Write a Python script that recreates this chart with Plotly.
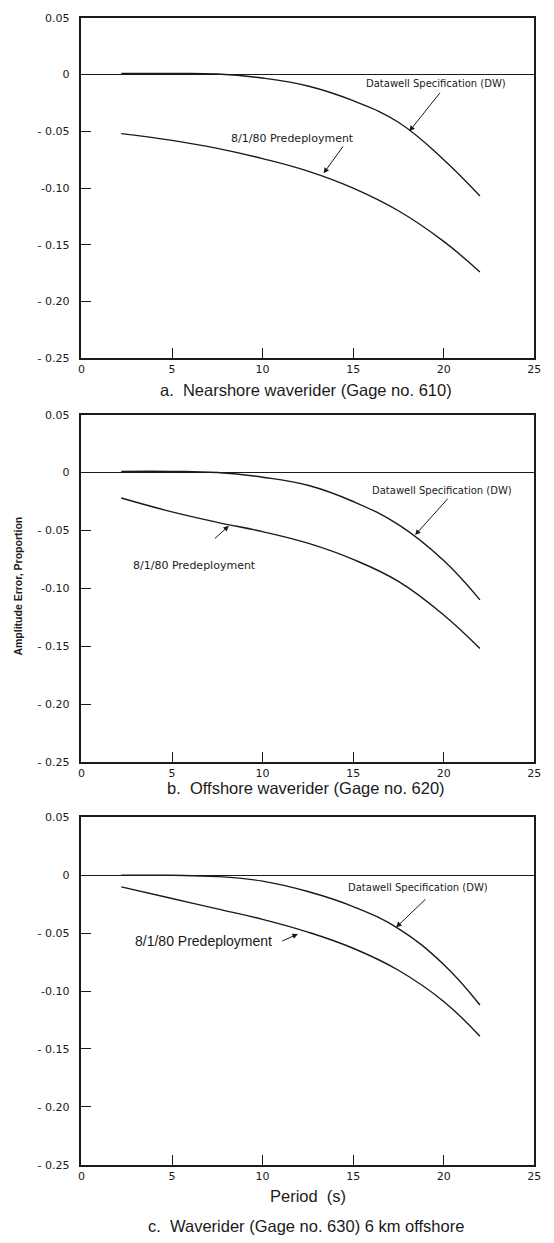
import plotly.graph_objects as go

# ---- data ----
period = [2.2, 5, 7.5, 10, 12.5, 15, 17.5, 20, 22]

dw_a = [0.001, 0.001, 0.0005, -0.003, -0.010, -0.023, -0.042, -0.075, -0.107]
pre_a = [-0.052, -0.058, -0.065, -0.074, -0.085, -0.100, -0.120, -0.147, -0.174]

dw_b = [0.001, 0.001, 0.0, -0.004, -0.011, -0.025, -0.045, -0.076, -0.110]
pre_b = [-0.022, -0.034, -0.043, -0.051, -0.061, -0.075, -0.094, -0.123, -0.152]

dw_c = [0.0, 0.0, -0.001, -0.005, -0.014, -0.027, -0.046, -0.077, -0.112]
pre_c = [-0.010, -0.020, -0.029, -0.038, -0.049, -0.063, -0.082, -0.109, -0.139]

x_ticks = [0, 5, 10, 15, 20, 25]
x_ticktext = ["0", "5", "10", "15", "20", "25"]
y_ticks = [0.05, 0, -0.05, -0.10, -0.15, -0.20, -0.25]
y_ticktext = ["0.05", "0", "- 0.05", "-0.10", "- 0.15", "- 0.20", "- 0.25"]

captions = ["a.  Nearshore waverider (Gage no. 610)",
            "b.  Offshore waverider (Gage no. 620)",
            "c.  Waverider (Gage no. 630) 6 km offshore"]

W, H = 554, 1243
INK = "#1a1a1a"
TICKFONT = dict(family="DejaVu Sans", size=11, color=INK)

def py(px):
    return 1 - px / H

x_dom = [79 / W, 541 / W]
panels_px = [(12, 356), (413, 764), (820, 1171)]

fig = go.Figure()

series = [(dw_a, pre_a), (dw_b, pre_b), (dw_c, pre_c)]
for i, (dw, pre) in enumerate(series):
    sfx = "" if i == 0 else str(i + 1)
    for yy in (dw, pre):
        fig.add_trace(go.Scatter(
            x=period, y=yy, mode="lines",
            line=dict(color=INK, width=1.4, shape="spline", smoothing=1.2),
            xaxis="x" + sfx, yaxis="y" + sfx, showlegend=False, hoverinfo="skip"))

    top, bot = panels_px[i]
    xa = dict(domain=x_dom, range=[0, 25], tickvals=x_ticks, ticktext=x_ticktext,
              ticks="inside", ticklen=10, tickwidth=1.2, tickcolor=INK,
              showline=True, linecolor=INK, linewidth=1.6, mirror=True,
              showgrid=False, zeroline=False, tickfont=TICKFONT,
              anchor="y" + sfx)
    ya = dict(domain=[py(bot), py(top)], range=[-0.25, 0.05], tickvals=y_ticks, ticktext=y_ticktext,
              ticks="inside", ticklen=10, tickwidth=1.2, tickcolor=INK,
              showline=True, linecolor=INK, linewidth=1.6, mirror=True,
              showgrid=False, zeroline=True, zerolinecolor=INK, zerolinewidth=1.4,
              tickfont=TICKFONT, ticklabelstandoff=8, anchor="x" + sfx)
    fig.update_layout(**{"xaxis" + sfx: xa, "yaxis" + sfx: ya})

ann = []
LBL = dict(family="DejaVu Sans", size=10, color=INK)
LBL2 = dict(family="DejaVu Sans", size=11, color=INK)

def label(text, x, y, panel, font=LBL):
    sfx = "" if panel == 0 else str(panel + 1)
    ann.append(dict(text=text, x=x, y=y, xref="x" + sfx, yref="y" + sfx,
                    xanchor="center", yanchor="middle", showarrow=False, font=font))

def arrow(x0, y0, x1, y1, panel):
    sfx = "" if panel == 0 else str(panel + 1)
    ann.append(dict(text="", x=x1, y=y1, ax=x0, ay=y0, xref="x" + sfx, yref="y" + sfx,
                    axref="x" + sfx, ayref="y" + sfx, showarrow=True,
                    arrowhead=2, arrowsize=1.1, arrowwidth=1, arrowcolor=INK))

# panel a
label("Datawell Specification (DW)", 19.6, -0.008, 0)
arrow(19.86, -0.0147, 18.1, -0.050, 0)
label("8/1/80 Predeployment", 11.65, -0.056, 0, LBL2)
arrow(14.5, -0.062, 13.37, -0.087, 0)
# panel b
label("Datawell Specification (DW)", 19.93, -0.0157, 1)
arrow(20.3, -0.0213, 18.42, -0.054, 1)
label("8/1/80 Predeployment", 6.23, -0.080, 1, LBL2)
arrow(7.29, -0.058, 8.14, -0.046, 1)
# panel c
label("Datawell Specification (DW)", 18.6, -0.0108, 2)
arrow(19.08, -0.0194, 17.37, -0.045, 2)
label("8/1/80 Predeployment", 6.72, -0.0565, 2,
      font=dict(family="Liberation Sans", size=14, color=INK))
arrow(11.0, -0.0573, 11.95, -0.0508, 2)

CAP = dict(family="Liberation Sans", size=16.5, color=INK)
cap_y = [388, 790, 1233]
for t, yp in zip(captions, cap_y):
    ann.append(dict(text=t, x=308 / W, y=py(yp), xref="paper", yref="paper",
                    xanchor="center", yanchor="middle", showarrow=False, font=CAP))
ann.append(dict(text="Period  (s)", x=310 / W, y=py(1203), xref="paper", yref="paper",
                xanchor="center", yanchor="middle", showarrow=False, font=CAP))
ann.append(dict(text="<b>Amplitude Error, Proportion</b>", x=14 / W, y=py(586),
                xref="paper", yref="paper", xanchor="center", yanchor="middle",
                showarrow=False, textangle=-90,
                font=dict(family="Liberation Sans", size=10.5, color=INK)))

fig.update_layout(width=W, height=H, margin=dict(l=0, r=0, t=0, b=0),
                  paper_bgcolor="white", plot_bgcolor="white",
                  annotations=ann, showlegend=False)

fig.write_html("out.html", post_script="document.body.style.margin='0';",
               config={"displayModeBar": False})
